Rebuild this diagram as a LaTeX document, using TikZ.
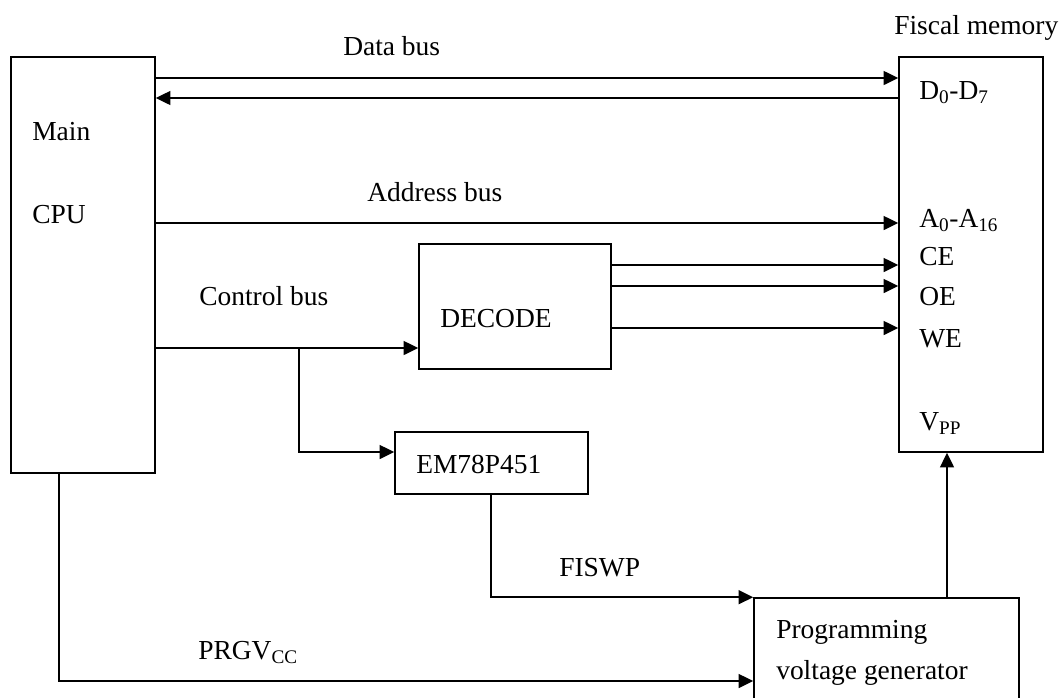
\documentclass[tikz,border=0pt]{standalone}
\usepackage{fontspec}
\setmainfont{Liberation Serif}
\usetikzlibrary{arrows.meta,fit}
\begin{document}
\begin{tikzpicture}[x=0.75pt,y=-0.75pt,
  box/.style={draw,line width=1.2pt,inner sep=0pt,rectangle},
  wire/.style={line width=1.2pt},
  arr/.style={wire,-{Triangle[length=11pt,width=10.5pt]}},
  lbl/.style={anchor=base west,inner sep=0pt,font=\fontsize{20.6}{24}\selectfont}]
\useasboundingbox (0,0) rectangle (1063,697);
\clip (0,0) rectangle (1063,697);
% boxes
\node[box,fit={(11,57) (155,473)}] (cpu) {};
\node[box,fit={(899,57) (1043,452)}] (fm) {};
\node[box,fit={(419,244) (611,369)}] (dec) {};
\node[box,fit={(395,432) (588,494)}] (em) {};
\node[box,fit={(754,598) (1019,730)}] (pvg) {};
% texts
\node[lbl] (tdata) at (343,55) {Data bus};
\node[lbl] (tfm) at (894,34) {Fiscal memory};
\node[lbl] (tmain) at (32,140) {Main};
\node[lbl] (tcpu) at (32,223) {CPU};
\node[lbl] (td) at (919,99) {D\textsubscript{0}-D\textsubscript{7}};
\node[lbl] (taddr) at (367,201) {Address bus};
\node[lbl] (ta) at (919,227) {A\textsubscript{0}-A\textsubscript{16}};
\node[lbl] (tce) at (919,265) {CE};
\node[lbl] (toe) at (919,305) {OE};
\node[lbl] (twe) at (919,347) {WE};
\node[lbl] (tvpp) at (919,430) {V\textsubscript{PP}};
\node[lbl] (tctl) at (199,305) {Control bus};
\node[lbl] (tdec) at (440,327) {DECODE};
\node[lbl] (tem) at (416,473) {EM78P451};
\node[lbl] (tfis) at (559,576) {FISWP};
\node[lbl] (tprg) at (198,659) {PRGV\textsubscript{CC}};
\node[lbl] (tpvg1) at (776,638) {Programming};
\node[lbl] (tpvg2) at (776,679) {voltage generator};
% connectors
\draw[arr] (cpu.east |- 0,78) -- (fm.west |- 0,78);
\draw[arr] (fm.west |- 0,98) -- (cpu.east |- 0,98);
\draw[arr] (cpu.east |- 0,223) -- (fm.west |- 0,223);
\draw[arr] (dec.east |- 0,265) -- (fm.west |- 0,265);
\draw[arr] (dec.east |- 0,286) -- (fm.west |- 0,286);
\draw[arr] (dec.east |- 0,328) -- (fm.west |- 0,328);
\coordinate (br) at (299,348);
\draw[arr] (cpu.east |- br) -- (dec.west |- br);
\draw[arr] (br) |- (em.west |- 0,452);
\draw[arr] (em.south -| 491,0) |- (pvg.north west);
\draw[arr] (pvg.north -| 947,0) -- (fm.south -| 947,0);
\draw[arr] (cpu.south -| 59,0) |- (pvg.west |- 0,681);
\end{tikzpicture}
\end{document}
